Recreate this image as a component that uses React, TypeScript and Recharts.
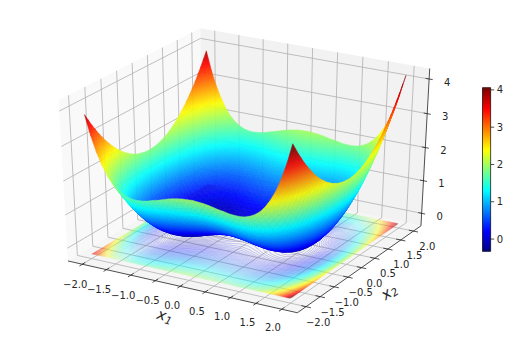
import React from "react";
import { ScatterChart, Scatter, XAxis, YAxis } from "recharts";

const gridValues = [0,0.1,0.2,0.3,0.4,0.5,0.6,0.7,0.8,0.9,1,1.1,1.2,1.3,1.4,1.5,1.6,1.7,1.8,1.9,2];
// surface height for one quadrant (rows |x1| = 0..2, columns |x2| = 0..2); the surface is mirrored about both axes
const zQuadrant = [
[0,.01,.02,.05,.08,.13,.18,.25,.32,.41,.5,.61,.72,.85,.98,1.13,1.28,1.45,1.62,1.81,2],
[-.01,0,.02,.04,.08,.12,.18,.24,.32,.40,.5,.6,.72,.84,.98,1.12,1.28,1.44,1.62,1.80,2],
[-.02,-.01,0,.03,.06,.11,.16,.23,.30,.39,.48,.59,.70,.83,.96,1.11,1.26,1.43,1.60,1.79,1.98],
[-.04,-.04,-.02,0,.04,.08,.14,.20,.28,.36,.46,.56,.68,.80,.94,1.08,1.24,1.40,1.58,1.76,1.96],
[-.07,-.07,-.05,-.03,.01,.05,.11,.17,.25,.33,.43,.53,.65,.77,.91,1.05,1.21,1.37,1.55,1.73,1.93],
[-.11,-.10,-.09,-.06,-.03,.02,.07,.14,.21,.30,.39,.50,.61,.74,.87,1.02,1.17,1.34,1.51,1.70,1.89],
[-.15,-.14,-.13,-.10,-.07,-.02,.03,.10,.17,.26,.35,.46,.57,.70,.83,.98,1.13,1.30,1.47,1.66,1.85],
[-.19,-.18,-.17,-.14,-.11,-.06,0,.06,.14,.22,.32,.42,.54,.66,.80,.94,1.10,1.26,1.44,1.62,1.82],
[-.22,-.21,-.20,-.17,-.14,-.09,-.04,.03,.10,.19,.28,.39,.50,.63,.76,.91,1.06,1.23,1.40,1.59,1.78],
[-.24,-.24,-.22,-.20,-.16,-.12,-.06,0,.08,.16,.26,.36,.48,.60,.74,.88,1.04,1.20,1.38,1.56,1.76],
[-.25,-.25,-.23,-.21,-.17,-.13,-.07,0,.07,.16,.25,.36,.47,.60,.73,.88,1.03,1.20,1.37,1.56,1.75],
[-.24,-.23,-.22,-.19,-.16,-.11,-.06,.01,.08,.17,.26,.37,.48,.61,.74,.89,1.04,1.21,1.38,1.57,1.76],
[-.20,-.20,-.18,-.16,-.12,-.08,-.02,.04,.12,.20,.30,.40,.52,.64,.78,.92,1.08,1.24,1.42,1.60,1.80],
[-.13,-.13,-.11,-.09,-.05,-.01,.05,.11,.19,.27,.37,.47,.59,.71,.85,.99,1.15,1.31,1.49,1.67,1.87],
[-.02,-.02,0,.03,.06,.11,.16,.23,.30,.39,.48,.59,.70,.83,.96,1.11,1.26,1.43,1.60,1.79,1.98],
[.14,.15,.16,.19,.22,.27,.32,.39,.46,.55,.64,.75,.86,.99,1.12,1.27,1.42,1.59,1.76,1.95,2.14],
[.36,.36,.38,.40,.44,.48,.54,.60,.68,.76,.86,.96,1.08,1.20,1.34,1.48,1.64,1.80,1.98,2.16,2.36],
[.64,.65,.66,.69,.72,.77,.82,.89,.96,1.05,1.14,1.25,1.36,1.49,1.62,1.77,1.92,2.09,2.26,2.45,2.64],
[1.00,1.01,1.02,1.05,1.08,1.13,1.18,1.25,1.32,1.41,1.50,1.61,1.72,1.85,1.98,2.13,2.28,2.45,2.62,2.81,3.00],
[1.45,1.46,1.47,1.50,1.53,1.58,1.63,1.70,1.77,1.86,1.95,2.06,2.17,2.30,2.43,2.58,2.73,2.90,3.07,3.26,3.45],
[2,2.01,2.02,2.05,2.08,2.13,2.18,2.25,2.32,2.41,2.5,2.61,2.72,2.85,2.98,3.13,3.28,3.45,3.62,3.81,4],
];
// tilt of the surface read from the four peaks: added on the +x1 side, taken off on the -x1 side
const x1Tilt = [0,.008,.016,.024,.032,.04,.048,.056,.064,.072,.08,.088,.096,.104,.112,.12,.128,.136,.144,.152,.16];
const x1Ticks = [-2,-1.5,-1,-0.5,0,0.5,1,1.5,2];
const x2Ticks = [-2,-1.5,-1,-0.5,0,0.5,1,1.5,2];
const zTicks = [0,1,2,3,4];
const colorbarTicks = [0,1,2,3,4];
const tickFormat = ["\u22122.0","\u22121.5","\u22121.0","\u22120.5","0.0","0.5","1.0","1.5","2.0"];

const W = 510, H = 340;
const SX = 2648, OX = 247.2, SY = 1835, OY = 165.6;
const XL = 2.3, ZLO = -0.39, ZHI = 4.3, ZFLOOR = -0.25;
const VMIN = -0.32, VMAX = 4.05;
const FONT = "'DejaVu Sans', sans-serif";

const jet = (v: number) => {
  const t = Math.min(1, Math.max(0, (v - VMIN) / (VMAX - VMIN)));
  const c = (a: number) => Math.round(255 * Math.min(1, Math.max(0, a)));
  return `rgb(${c(Math.min(4*t-1.5, -4*t+4.5))},${c(Math.min(4*t-0.5, -4*t+3.5))},${c(Math.min(4*t+0.5, -4*t+2.5))})`;
};
const N = [0.433, -0.75, 0.5], U = [0.866, 0.5, 0], V = [-0.25, 0.433, 0.866];
const boxProj = (u: number, v: number, w: number) => {
  const d = [u-0.5, v-0.5, w-0.5];
  const dot = (a: number[]) => a[0]*d[0]+a[1]*d[1]+a[2]*d[2];
  const den = 10 - dot(N);
  return { p: [dot(U)/den, dot(V)/den], depth: dot(N) };
};
const toU = (x: number) => (x + XL) / (2*XL);
const toW = (z: number) => (z - ZLO) / (ZHI - ZLO);
const proj = (a: number, b: number, z: number) => boxProj(toU(a), toU(b), toW(z));
const fromPx = (x: number, y: number) => [(x-OX)/SX, (OY-y)/SY];

type Item = { px: number; py: number; pts?: number[][]; [k: string]: any };
const center = (pts: number[][]) => {
  const px = pts.reduce((s,q)=>s+q[0],0)/pts.length;
  const py = pts.reduce((s,q)=>s+q[1],0)/pts.length;
  return { px, py };
};
const poly = (pts: number[][], style: any): Item => ({ ...center(pts), pts, ...style });
const lineBox = (a: number[], b: number[], style: any) => poly([boxProj(a[0],a[1],a[2]).p, boxProj(b[0],b[1],b[2]).p], { fill: "none", ...style });

const PolyShape = (props: any) => {
  const { cx, cy, payload: o } = props;
  const d = o.pts.map((q: number[], i: number) => `${i?"L":"M"}${(cx+(q[0]-o.px)*SX).toFixed(2)} ${(cy-(q[1]-o.py)*SY).toFixed(2)}`).join("") + (o.close ? "Z" : "");
  return <path d={d} fill={o.fill} stroke={o.stroke} strokeWidth={o.sw} opacity={o.op} strokeLinecap="butt" />;
};
// one mesh cell of the surface, coloured by its four corner heights
const FaceShape = (props: any) => {
  const { cx, cy, payload: o } = props;
  const P = o.pts.map((q: number[]) => [cx+(q[0]-o.px)*SX, cy-(q[1]-o.py)*SY]);
  const d = P.map((q: number[], i: number) => `${i?"L":"M"}${q[0].toFixed(2)} ${q[1].toFixed(2)}`).join("")+"Z";
  const z = o.zs as number[];
  const e1=[P[2][0]-P[0][0],P[2][1]-P[0][1]], e2=[P[3][0]-P[1][0],P[3][1]-P[1][1]];
  const d1=z[2]-z[0], d2=z[3]-z[1];
  const det=e1[0]*e2[1]-e1[1]*e2[0];
  const lo=Math.min(...z), hi=Math.max(...z), mid=(z[0]+z[1]+z[2]+z[3])/4;
  const c0=P.reduce((s:number,q:number[])=>s+q[0],0)/4, c1=P.reduce((s:number,q:number[])=>s+q[1],0)/4;
  if (Math.abs(det)<1e-3 || hi-lo<0.004) return <path d={d} fill={jet(mid)} stroke={jet(mid)} strokeWidth={0.5} opacity={0.93}/>;
  const g=[(d1*e2[1]-d2*e1[1])/det,(e1[0]*d2-e2[0]*d1)/det];
  const gg=g[0]*g[0]+g[1]*g[1];
  if (gg<1e-9) return <path d={d} fill={jet(mid)} stroke={jet(mid)} strokeWidth={0.5} opacity={0.93}/>;
  const a=(mid-lo)/gg, b=(hi-mid)/gg;
  const id=`f${o.id}`;
  return <g>
    <defs><linearGradient id={id} gradientUnits="userSpaceOnUse" x1={c0-g[0]*a} y1={c1-g[1]*a} x2={c0+g[0]*b} y2={c1+g[1]*b}>
      {[0,0.25,0.5,0.75,1].map(s=><stop key={s} offset={s} stopColor={jet(lo+(hi-lo)*s)}/>)}
    </linearGradient></defs>
    <path d={d} fill={`url(#${id})`} stroke={`url(#${id})`} strokeWidth={0.5} opacity={0.93}/>
  </g>;
};
const PathShape = (props: any) => {
  const { cx, cy, payload: o } = props;
  const d = o.segs.map((s: number[][]) => `M${(cx+(s[0][0]-o.px)*SX).toFixed(2)} ${(cy-(s[0][1]-o.py)*SY).toFixed(2)}L${(cx+(s[1][0]-o.px)*SX).toFixed(2)} ${(cy-(s[1][1]-o.py)*SY).toFixed(2)}`).join("");
  return <path d={d} fill="none" stroke={o.stroke} strokeWidth={o.sw} opacity={o.op} />;
};
const TextShape = (props: any) => {
  const { cx, cy, payload: o } = props;
  const x = cx + (o.dx||0), y = cy + (o.dy||0);
  return <text x={x} y={y} fontFamily={FONT} fontSize={o.size||10} fill={o.color||"#262626"} textAnchor={o.anchor||"middle"} dominantBaseline="central" transform={o.rot ? `rotate(${o.rot} ${x} ${y})` : undefined}>
    {o.italic ? <tspan fontStyle="italic">{o.italic}</tspan> : null}
    {o.sub ? <tspan fontSize={(o.size||10)*0.7} fontStyle="italic" dy={3}>{o.sub}</tspan> : null}
    {o.label || null}
  </text>;
};

// panes
const panes: Item[] = [
  poly([[0,0,0],[0,1,0],[0,1,1],[0,0,1]].map(c=>boxProj(c[0],c[1],c[2]).p), { fill:"#f9f9f9", close:true }),
  poly([[0,1,0],[1,1,0],[1,1,1],[0,1,1]].map(c=>boxProj(c[0],c[1],c[2]).p), { fill:"#f2f2f2", close:true }),
  poly([[0,0,0],[1,0,0],[1,1,0],[0,1,0]].map(c=>boxProj(c[0],c[1],c[2]).p), { fill:"#f5f5f5", close:true }),
];
// grid
const GRID = { stroke:"#b0b0b0", sw:0.8 };
const gridLines: Item[] = [];
x1Ticks.forEach(t => { const u=toU(t);
  gridLines.push(lineBox([u,0,0],[u,1,0],GRID)); gridLines.push(lineBox([u,1,0],[u,1,1],GRID)); });
x2Ticks.forEach(t => { const v=toU(t);
  gridLines.push(lineBox([0,v,0],[1,v,0],GRID)); gridLines.push(lineBox([0,v,0],[0,v,1],GRID)); });
zTicks.forEach(t => { const w=toW(t);
  gridLines.push(lineBox([0,0,w],[0,1,w],GRID)); gridLines.push(lineBox([0,1,w],[1,1,w],GRID)); });

// surface
const n = (gridValues.length-1)*2;
const coord = (i: number) => (i<n/2?-1:1)*gridValues[Math.abs(i-n/2)];
const zAt = (i: number, j: number) => zQuadrant[Math.abs(i-n/2)][Math.abs(j-n/2)] + (i<n/2?-1:1)*x1Tilt[Math.abs(i-n/2)];
const faces: Item[] = [];
for (let i=0;i<n;i++) for (let j=0;j<n;j++) {
  const cs = [[i,j],[i+1,j],[i+1,j+1],[i,j+1]];
  const zs = cs.map(c=>zAt(c[0],c[1]));
  const pr = cs.map((c,k)=>proj(coord(c[0]),coord(c[1]),zs[k]));
  faces.push({ ...poly(pr.map(q=>q.p), {}), zs, id:i*100+j, depth: pr.reduce((a,q)=>a+q.depth,0)/4 });
}
faces.sort((a,b)=>a.depth-b.depth);

// floor contours
const contours: Item[] = [];
for (let l=0;l<130;l++) {
  const lev = VMIN + 0.03 + l*(VMAX-VMIN)/130;
  const segs: number[][][] = [];
  for (let i=0;i<n;i++) for (let j=0;j<n;j++) {
    const cs = [[i,j],[i+1,j],[i+1,j+1],[i,j+1]];
    const zs = cs.map(c=>zAt(c[0],c[1]));
    const cross: number[][] = [];
    for (let k=0;k<4;k++) {
      const a=zs[k], b=zs[(k+1)%4];
      if ((a<lev)!==(b<lev)) {
        const t=(lev-a)/(b-a); const A=cs[k], B=cs[(k+1)%4];
        cross.push(proj(coord(A[0])+(coord(B[0])-coord(A[0]))*t, coord(A[1])+(coord(B[1])-coord(A[1]))*t, ZFLOOR).p);
      }
    }
    if (cross.length>=2) segs.push([cross[0],cross[1]]);
    if (cross.length===4) segs.push([cross[2],cross[3]]);
  }
  if (segs.length) contours.push({ ...center(segs.flat()), segs, stroke:jet(lev), sw:0.8, op:0.28 });
}

// axes
const AX = { stroke:"#222", sw:0.8 };
const axes: Item[] = [
  lineBox([0,0,0],[1,0,0],AX), lineBox([1,0,0],[1,1,0],AX), lineBox([1,1,0],[1,1,1],AX),
];
const labels: Item[] = [];
x1Ticks.forEach((t,i) => { const u=toU(t);
  axes.push(lineBox([u,-0.02,0],[u,0.02,0],AX));
  const p=boxProj(u,0,0).p; labels.push({px:p[0],py:p[1],label:tickFormat[i],dx:-7-2*u,dy:20.5-2*u}); });
x2Ticks.forEach((t,i) => { const v=toU(t);
  axes.push(lineBox([0.98,v,0],[1.02,v,0],AX));
  const p=boxProj(1,v,0).p; labels.push({px:p[0],py:p[1],label:tickFormat[i],dx:12+2*v,dy:16-v}); });
zTicks.forEach(t => { const w=toW(t);
  axes.push(lineBox([0.985,1,w],[1.015,1,w],AX));
  const p=boxProj(1,1,w).p; labels.push({px:p[0],py:p[1],label:String(t),dx:18,dy:3}); });
const l1=fromPx(165,316), l2=fromPx(389,292);
labels.push({px:l1[0],py:l1[1],italic:"x",sub:"1",size:15,rot:18});
labels.push({px:l2[0],py:l2[1],italic:"x",sub:"2",size:15,rot:-35});

// colorbar
const CBX = fromPx(482.4,0)[0], CBX2 = fromPx(490.7,0)[0];
const cbW = 8.3;
const CbCell = (props: any) => {
  const { cx, cy, payload: o } = props;
  return <rect x={cx} y={cy-1.6} width={cbW} height={3.2} fill={jet(o.v)} />;
};
const cells: any[] = [];
for (let k=0;k<88;k++) { const v=VMIN+(k+0.5)*(VMAX-VMIN)/88; cells.push({px:CBX,v}); }
const CbTick = (props: any) => {
  const { cx, cy, payload: o } = props;
  return <g><line x1={cx} x2={cx+3.5} y1={cy} y2={cy} stroke="#222" strokeWidth={0.8}/>
    <text x={cx+6} y={cy} fontFamily={FONT} fontSize={10} fill="#262626" dominantBaseline="central">{o.label}</text></g>;
};
const CbBox = (props: any) => {
  const { cx, cy } = props;
  return <rect x={cx} y={cy} width={cbW} height={163} fill="none" stroke="#222" strokeWidth={0.8} />;
};
const cbTicks = colorbarTicks.map(t=>({px:CBX2,v:t,label:String(t)}));
const cbBox = [{px:CBX,v:VMAX}];

// y pixel 88 = VMAX, y pixel 251 = VMIN
const cbPerPx = (VMAX-VMIN)/163;
const CB_DOMAIN = [VMAX-(H-88)*cbPerPx, VMAX+88*cbPerPx];

export default function App() {
  return (
    <div style={{ position:"absolute", left:0, top:0, width:W, height:H }}>
      <ScatterChart width={W} height={H} margin={{top:0,right:0,bottom:0,left:0}}>
        <XAxis type="number" dataKey="px" hide allowDataOverflow domain={[(0-OX)/SX,(W-OX)/SX]} />
        <YAxis type="number" dataKey="py" hide allowDataOverflow domain={[(OY-H)/SY,OY/SY]} />
        <YAxis type="number" dataKey="v" yAxisId="cb" hide allowDataOverflow domain={CB_DOMAIN} />
        <Scatter data={panes} shape={PolyShape} isAnimationActive={false} />
        <Scatter data={gridLines} shape={PolyShape} isAnimationActive={false} />
        <Scatter data={contours} shape={PathShape} isAnimationActive={false} />
        <Scatter data={axes} shape={PolyShape} isAnimationActive={false} />
        <Scatter data={faces} shape={FaceShape} isAnimationActive={false} />
        <Scatter data={labels} shape={TextShape} isAnimationActive={false} />
        <Scatter data={cells} yAxisId="cb" shape={CbCell} isAnimationActive={false} />
        <Scatter data={cbTicks} yAxisId="cb" shape={CbTick} isAnimationActive={false} />
        <Scatter data={cbBox} yAxisId="cb" shape={CbBox} isAnimationActive={false} />
      </ScatterChart>
    </div>
  );
}
